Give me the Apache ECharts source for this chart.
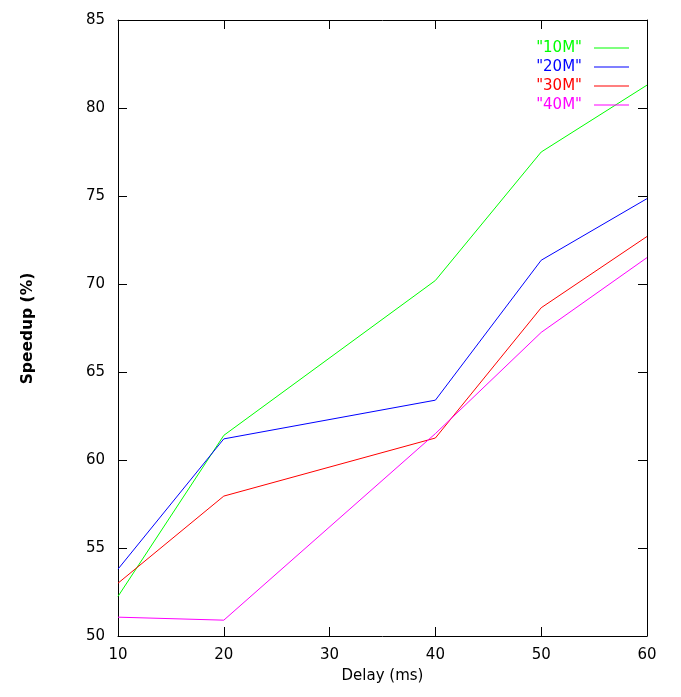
<!DOCTYPE html>
<html>
<head>
<meta charset="utf-8">
<script src="https://cdn.jsdelivr.net/npm/echarts@6/dist/echarts.min.js"></script>
<style>html,body{margin:0;padding:0;background:#fff;}#c{width:681px;height:697px;}</style>
</head>
<body>
<div id="c"></div>
<script>
const delays = [10, 20, 40, 50, 60];
const names = ['"10M"', '"20M"', '"30M"', '"40M"'];
const s10M = [52.25, 61.4, 70.2, 77.5, 81.3];
const s20M = [53.8, 61.2, 63.4, 71.35, 74.85];
const s30M = [53.0, 57.95, 61.25, 68.65, 72.7];
const s40M = [51.07, 50.9, 61.5, 67.25, 71.5];
const colors = ['#00ff00', '#0000ff', '#ff0000', '#ff00ff'];
const allSeries = [s10M, s20M, s30M, s40M];

const font = 'DejaVu Sans';
const chart = echarts.init(document.getElementById('c'), null, {renderer: 'canvas'});
const axisCommon = {
  axisLine: {show: true, lineStyle: {color: '#000', width: 1}},
  axisTick: {show: true, inside: true, length: 9, lineStyle: {color: '#000', width: 1}},
  splitLine: {show: false}
};
chart.setOption({
  animation: false,
  backgroundColor: '#fff',
  grid: {left: 118, right: 34, top: 20, bottom: 61, containLabel: false},
  legend: {
    orient: 'vertical', align: 'right', right: 52, top: 40, padding: 0,
    itemWidth: 35, itemHeight: 1, itemGap: 3, icon: 'rect',
    textStyle: {fontFamily: font, fontSize: 15, lineHeight: 16, height: 16, padding: [0, 7, 0, 0]},
    data: names.map((n, i) => ({name: n, textStyle: {color: colors[i]}, itemStyle: {color: colors[i]}}))
  },
  xAxis: [
    Object.assign({type: 'value', min: 10, max: 60, interval: 10, position: 'bottom',
      axisLabel: {color: '#000', fontFamily: font, fontSize: 15, margin: 12},
      name: 'Delay (ms)', nameLocation: 'middle', nameGap: 33,
      nameTextStyle: {color: '#000', fontFamily: font, fontSize: 15}}, axisCommon),
    Object.assign({type: 'value', min: 10, max: 60, interval: 10, position: 'top',
      axisLabel: {show: false}}, axisCommon)
  ],
  yAxis: [
    Object.assign({type: 'value', min: 50, max: 85, interval: 5, position: 'left',
      axisLabel: {color: '#000', fontFamily: font, fontSize: 15, margin: 13}}, axisCommon),
    Object.assign({type: 'value', min: 50, max: 85, interval: 5, position: 'right',
      axisLabel: {show: false}}, axisCommon)
  ],
  graphic: [{
    type: 'text', rotation: Math.PI / 2, x: 27.5, y: 328.5,
    style: {text: 'Speedup (%)', fill: '#000', font: 'bold 15.5px "DejaVu Sans"', align: 'center', verticalAlign: 'middle'}
  }],
  series: allSeries.map((vals, i) => ({
    name: names[i], type: 'line', showSymbol: false, symbol: 'none',
    color: colors[i],
    lineStyle: {color: colors[i], width: 1},
    data: delays.map((d, j) => [d, vals[j]])
  }))
});
</script>
</body>
</html>
